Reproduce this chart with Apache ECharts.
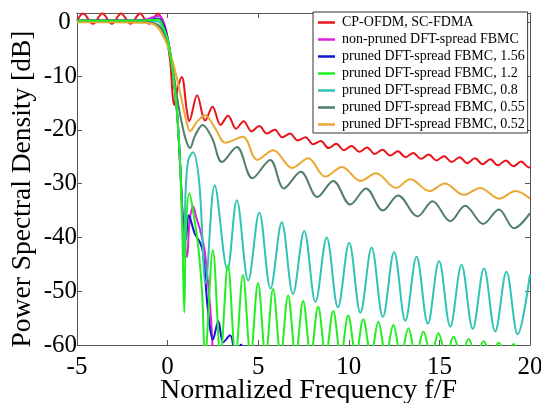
<!DOCTYPE html>
<html>
<head>
<meta charset="utf-8">
<script src="https://cdn.jsdelivr.net/npm/echarts@6/dist/echarts.min.js"></script>
<style>
  html, body { margin: 0; padding: 0; background: #fff; }
  #chart { width: 541px; height: 403px; }
</style>
</head>
<body>
<div id="chart"></div>
<script>
// Power spectral density curves: [normalized frequency f/F, PSD in dB]
const cpOfdm = [
  [-5.0, 0.2], [-4.67, 1.6], [-4.12, -0.3], [-3.6, 1.6], [-3.07, -0.3], [-2.57, 1.6],
  [-2.04, -0.3], [-1.52, 1.6], [-1.05, -0.3], [-0.53, 1.6], [-0.14, -1.5], [0.14, -7.1],
  [0.27, -13.3], [0.36, -15.4], [0.58, -12.0], [0.78, -10.2], [1.06, -16.4], [1.19, -18.4],
  [1.63, -13.6], [2.07, -18.3], [2.48, -15.7], [2.92, -19.1], [3.34, -17.4], [3.78, -19.8],
  [4.2, -18.4], [4.63, -20.3], [5.06, -19.3], [5.48, -20.7], [5.91, -20.0], [6.33, -21.4],
  [6.76, -20.7], [7.18, -22.0], [7.61, -21.4], [8.03, -22.7], [8.46, -22.1], [8.88, -23.4],
  [9.31, -22.6], [9.73, -23.8], [10.16, -23.0], [10.58, -24.1], [11.01, -23.3], [11.43, -24.5],
  [11.86, -23.7], [12.28, -24.8], [12.71, -24.0], [13.13, -25.1], [13.56, -24.3], [13.98, -25.4],
  [14.41, -24.6], [14.83, -25.7], [15.26, -24.9], [15.68, -26.0], [16.11, -25.1], [16.53, -26.2],
  [16.96, -25.3], [17.38, -26.4], [17.81, -25.5], [18.23, -26.6], [18.66, -25.7], [19.08, -26.8],
  [19.51, -25.9], [19.93, -27.0], [20.0, -26.9]
];

const nonPruned = [
  [-5.0, 0.3], [-2.0, 0.3], [-1.2, 0.5], [-0.8, 0.9], [-0.45, 1.2], [-0.2, -0.2], [0.0, -2.8],
  [0.2, -7.0], [0.4, -12.5], [0.55, -18.0], [0.7, -27.0], [0.85, -37.0], [1.0, -42.5],
  [1.08, -43.6], [1.2, -37.5], [1.41, -34.2], [1.6, -36.5], [1.8, -38.7], [1.96, -41.0],
  [2.07, -43.0], [2.35, -53.0], [2.46, -59.0], [2.55, -66.0]
];

const pruned156 = [
  [-5.0, 0.3], [-2.0, 0.3], [-1.0, 0.4], [-0.5, 0.7], [-0.25, -0.3], [0.0, -3.0],
  [0.2, -7.0], [0.4, -12.5], [0.55, -18.0], [0.7, -27.0], [0.85, -37.0], [1.0, -40.5],
  [1.17, -35.9], [1.5, -39.3], [1.8, -41.0], [1.96, -43.0], [2.24, -54.0], [2.5, -59.0],
  [2.8, -55.6], [3.07, -59.5], [3.45, -58.2], [3.75, -61.5], [4.05, -59.9], [4.3, -64.0]
];

const pruned12 = [
  [-5.0, 0.3], [-2.0, 0.3], [-1.0, 0.4], [-0.5, 0.5], [-0.3, -0.4], [0.0, -3.2],
  [0.2, -7.0], [0.4, -12.5], [0.55, -18.0], [0.7, -27.0], [0.8, -37.0], [0.92, -54.0],
  [1.02, -38.0], [1.2, -31.8], [1.45, -36.0], [1.7, -42.0], [1.9, -50.0], [2.07, -62.0],
  [2.5, -42.4], [2.92, -62.0], [3.33, -45.2], [3.75, -62.0], [4.16, -47.0], [4.58, -62.0],
  [4.99, -48.5], [5.41, -62.0], [5.82, -49.6], [6.24, -62.0], [6.65, -50.8], [7.07, -62.0],
  [7.48, -51.8], [7.9, -62.0], [8.31, -52.9], [8.73, -62.0], [9.14, -53.7], [9.56, -62.0],
  [9.97, -54.5], [10.39, -62.0], [10.8, -55.2], [11.22, -62.0], [11.63, -55.7], [12.05, -62.0],
  [12.46, -56.3], [12.88, -62.0], [13.29, -56.9], [13.71, -62.0], [14.12, -57.5], [14.54, -62.0],
  [14.95, -57.8], [15.37, -62.0], [15.78, -58.4], [16.2, -62.0], [16.61, -58.9], [17.03, -62.0],
  [17.44, -59.3], [17.86, -62.0], [18.27, -59.6], [18.69, -62.0], [19.1, -59.8], [19.52, -62.0],
  [20.0, -62.0]
];

const pruned08 = [
  [-5.0, 0.2], [-2.0, 0.2], [-1.0, 0.2], [-0.5, 0.1], [-0.3, -0.8], [0.0, -3.2],
  [0.2, -7.0], [0.4, -12.5], [0.55, -18.0], [0.7, -27.0], [0.8, -36.0], [0.9, -44.0],
  [1.0, -31.0], [1.15, -25.5], [1.4, -24.2], [1.75, -30.0], [2.1, -48.5], [2.6, -30.3],
  [3.3, -46.0], [3.82, -33.1], [4.45, -48.0], [5.06, -35.4], [5.68, -49.5], [6.3, -37.2],
  [6.92, -50.5], [7.54, -38.8], [8.16, -52.0], [8.78, -40.0], [9.4, -53.0], [10.02, -41.0],
  [10.64, -54.0], [11.26, -41.9], [11.88, -54.8], [12.5, -42.7], [13.12, -55.5], [13.74, -43.6],
  [14.36, -56.0], [14.98, -44.4], [15.6, -56.6], [16.22, -45.1], [16.84, -57.0], [17.46, -45.8],
  [18.08, -57.5], [18.7, -46.4], [19.32, -58.0], [20.0, -46.9]
];

const pruned055 = [
  [-5.0, 0.2], [-2.0, 0.2], [-1.0, 0.0], [-0.5, -0.6], [-0.15, -2.5], [0.1, -5.5],
  [0.35, -10.0], [0.6, -15.5], [0.85, -19.8], [1.05, -22.3], [1.24, -23.4], [1.5, -21.2],
  [1.93, -19.1], [2.45, -21.5], [3.0, -26.0], [3.82, -23.2], [4.68, -29.0], [5.66, -25.6],
  [6.42, -30.9], [7.35, -27.8], [8.26, -32.5], [9.14, -29.5], [10.08, -33.9], [10.95, -30.9],
  [11.88, -35.0], [12.72, -32.2], [13.8, -36.1], [14.62, -33.3], [15.6, -37.0], [16.42, -34.1],
  [17.42, -37.5], [18.28, -34.8], [19.12, -38.3], [20.0, -35.5]
];

const pruned052 = [
  [-5.0, 0.0], [-3.0, 0.0], [-1.5, -0.1], [-0.7, -0.5], [-0.14, -3.3], [0.25, -7.0],
  [0.58, -11.4], [0.86, -15.8], [1.05, -18.6], [1.24, -20.3], [1.6, -18.6], [2.07, -17.3],
  [2.6, -19.6], [3.2, -22.4], [4.15, -21.3], [4.95, -25.6], [5.83, -23.8], [6.88, -27.1],
  [7.76, -25.3], [8.7, -28.7], [9.62, -26.9], [10.65, -29.5], [11.5, -28.1], [12.6, -30.8],
  [13.4, -29.2], [14.45, -31.4], [15.3, -30.0], [16.35, -32.1], [17.25, -30.8], [18.3, -32.8],
  [19.2, -31.4], [20.0, -32.8]
];

const seriesNames = [
  'CP-OFDM, SC-FDMA',
  'non-pruned DFT-spread FBMC',
  'pruned DFT-spread FBMC, 1.56',
  'pruned DFT-spread FBMC, 1.2',
  'pruned DFT-spread FBMC, 0.8',
  'pruned DFT-spread FBMC, 0.55',
  'pruned DFT-spread FBMC, 0.52'
];
const seriesData = [cpOfdm, nonPruned, pruned156, pruned12, pruned08, pruned055, pruned052];
const seriesColors = ['#e8141c', '#e020e0', '#1414d2', '#22ee22', '#30c4b2', '#4f7f68', '#eaa834'];
// the bright green curve is drawn above the others in the steep roll-off
const seriesZ = [2, 2, 2, 3, 2, 2, 2];

const xAxisTitle = 'Normalized Frequency f/F';
const yAxisTitle = 'Power Spectral Density [dB]';

const serif = 'Liberation Serif, Times New Roman, serif';
const axisGray = '#555';

const chart = echarts.init(document.getElementById('chart'), null, { renderer: 'canvas' });

const baseX = {
  type: 'value', min: -5, max: 20, interval: 5,
  axisLine: { show: true, onZero: false, lineStyle: { color: axisGray, width: 1 } },
  axisTick: { show: true, inside: true, length: 5, lineStyle: { color: axisGray } },
  splitLine: { show: false }
};
const baseY = {
  type: 'value', min: -60, max: 1.7, interval: 10,
  axisLine: { show: true, onZero: false, lineStyle: { color: axisGray, width: 1 } },
  axisTick: { show: true, inside: true, length: 5, lineStyle: { color: axisGray } },
  splitLine: { show: false }
};

chart.setOption({
  animation: false,
  backgroundColor: '#fff',
  grid: { left: 77, right: 11, top: 13, bottom: 58, containLabel: false, outerBoundsMode: 'none' },
  xAxis: [
    Object.assign({}, baseX, {
      position: 'bottom',
      axisLabel: { fontFamily: serif, fontSize: 25, color: '#000', margin: 10 },
      name: xAxisTitle,
      nameLocation: 'middle',
      nameGap: 32,
      nameMoveOverlap: false,
      nameTextStyle: { fontFamily: serif, fontSize: 28, color: '#000', padding: [0, 0, 0, 10] }
    }),
    Object.assign({}, baseX, { position: 'top', axisLabel: { show: false } })
  ],
  yAxis: [
    Object.assign({}, baseY, {
      position: 'left',
      axisLabel: {
        fontFamily: serif, fontSize: 25, color: '#000', margin: 0,
        formatter: v => (v % 10 === 0 ? (v === 0 ? '0 ' : String(v)) : '')
      }
    }),
    Object.assign({}, baseY, { position: 'right', axisLabel: { show: false } })
  ],
  graphic: [{
    type: 'text',
    x: 23, y: 189,
    rotation: Math.PI / 2,
    style: {
      text: yAxisTitle,
      font: '27.5px ' + serif,
      fill: '#000',
      align: 'center',
      verticalAlign: 'middle'
    }
  }],
  legend: {
    orient: 'vertical',
    left: 313, top: 12,
    icon: 'rect',
    itemWidth: 17, itemHeight: 2.5, itemGap: 0,
    padding: [2, 3, 0, 5],
    backgroundColor: '#fff',
    borderColor: '#333', borderWidth: 1,
    textStyle: { fontFamily: serif, fontSize: 14, lineHeight: 17, color: '#000', padding: [0, 0, 0, 2] },
    data: seriesNames
  },
  series: seriesData.map((d, i) => ({
    type: 'line',
    name: seriesNames[i],
    data: d,
    z: seriesZ[i],
    smooth: 0.35,
    symbol: 'none',
    clip: true,
    lineStyle: { width: 2, color: seriesColors[i] },
    itemStyle: { color: seriesColors[i] }
  }))
});
</script>
</body>
</html>
